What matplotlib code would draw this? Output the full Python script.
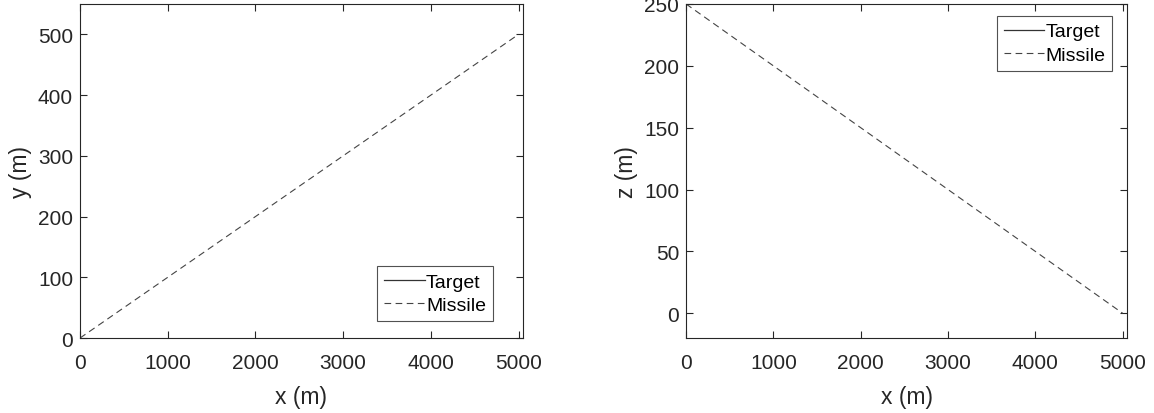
import numpy as np
import matplotlib.pyplot as plt

plt.rcParams['font.family'] = ['Liberation Sans', 'DejaVu Sans']

# trajectories (m)
missile_x = [0, 5000]
missile_y = [0, 500]
missile_z = [250, 0]
target_x = [5000]
target_y = [500]
target_z = [0]

xticks = [0, 1000, 2000, 3000, 4000, 5000]
yticks = [0, 100, 200, 300, 400, 500]
zticks = [0, 50, 100, 150, 200, 250]

fig = plt.figure(figsize=(11.54, 4.14), dpi=100)
ax1 = fig.add_axes([0.0693, 0.181, 0.3839, 0.807])
ax2 = fig.add_axes([0.5945, 0.181, 0.3822, 0.807])

def style(ax):
    for s in ax.spines.values():
        s.set_color('#262626')
        s.set_linewidth(0.8)
    ax.tick_params(direction='in', top=True, right=True, length=5, width=0.8,
                   labelsize=15, colors='#262626')
    ax.tick_params(axis='x', pad=11)
    ax.tick_params(axis='y', pad=5)

def add_legend(ax, loc, anchor):
    leg = ax.legend(loc=loc, bbox_to_anchor=anchor, fontsize=14, frameon=True,
                    fancybox=False, edgecolor='#262626', handlelength=2.1,
                    handletextpad=0.05, borderpad=0.35, labelspacing=0.3,
                    borderaxespad=0)
    leg.get_frame().set_linewidth(0.8)

ax1.plot(target_x, target_y, '-', color='#333333', lw=0.9, label='Target')
ax1.plot(missile_x, missile_y, '--', color='#444444', lw=0.8, dashes=(6, 4), label='Missile')
ax1.set_xlim(0, 5050)
ax1.set_ylim(0, 550)
ax1.set_xticks(xticks)
ax1.set_yticks(yticks)
ax1.set_xlabel('x (m)', fontsize=16.5, color='#262626', labelpad=9)
ax1.set_ylabel('y (m)', fontsize=16.5, color='#262626', labelpad=4)
style(ax1)
add_legend(ax1, 'lower right', (0.932, 0.051))

ax2.plot(target_x, target_z, '-', color='#333333', lw=0.9, label='Target')
ax2.plot(missile_x, missile_z, '--', color='#444444', lw=0.8, dashes=(6, 4), label='Missile')
ax2.set_xlim(0, 5050)
ax2.set_ylim(-20, 250)
ax2.set_xticks(xticks)
ax2.set_yticks(zticks)
ax2.set_xlabel('x (m)', fontsize=16.5, color='#262626', labelpad=9)
ax2.set_ylabel('z (m)', fontsize=16.5, color='#262626', labelpad=4)
style(ax2)
add_legend(ax2, 'upper right', (0.966, 0.964))

fig.savefig('out.png', dpi=100)
